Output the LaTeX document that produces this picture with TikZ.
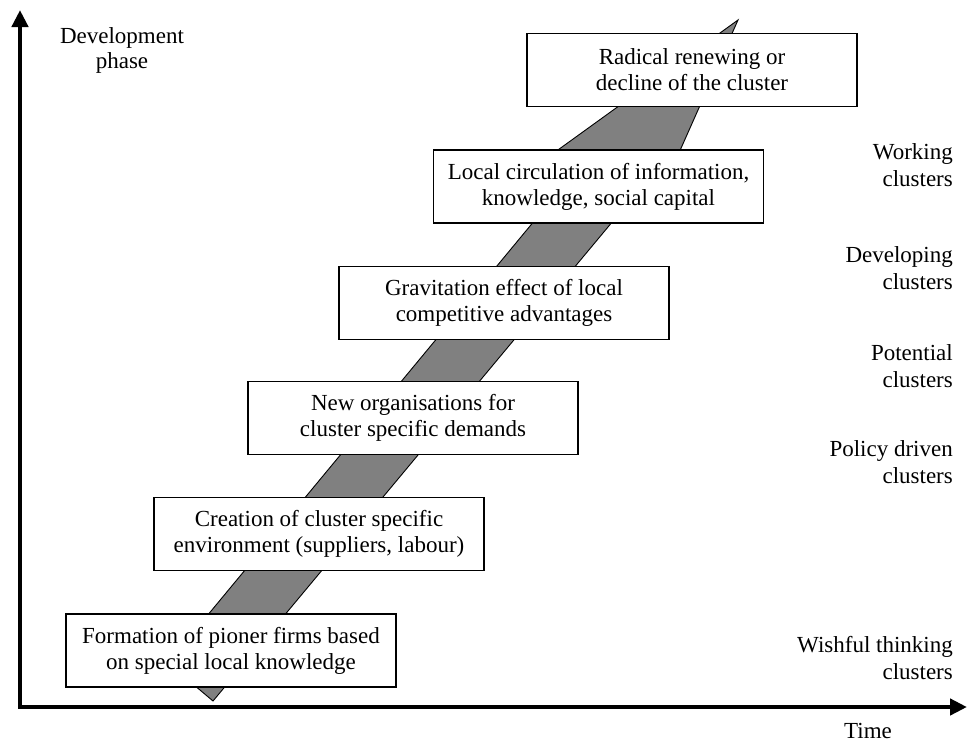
\documentclass[tikz,border=0pt]{standalone}
\usepackage{fontspec}
\setmainfont{Liberation Serif}
\usetikzlibrary{arrows.meta}
\definecolor{bandgray}{RGB}{128,128,128}
\begin{document}
\begin{tikzpicture}[x=1pt,y=-1pt,
  stagebox/.style={draw, fill=white, line width=1.5pt, minimum width=330pt, minimum height=73pt, align=center, inner sep=0pt, font=\fontsize{23}{26}\selectfont},
  lbl/.style={align=right, anchor=east, inner sep=0pt, font=\fontsize{23}{27}\selectfont},
  plainlbl/.style={align=center, inner sep=0pt, font=\fontsize{23}{25}\selectfont},
  axisline/.style={line width=4.5pt, line join=miter, {Triangle[length=17pt,width=16pt]}-{Triangle[length=17pt,width=16pt]}},
  band/.style={fill=bandgray, draw=black, line width=0.9pt, line join=miter}]
\useasboundingbox (0,0) rectangle (968,742);

% gray development arrow
\coordinate (tail) at (213,701);
\coordinate (r1) at (615.5,218);
\coordinate (r2) at (658,200);
\coordinate (tip) at (738,20);
\coordinate (l2) at (544,160);
\coordinate (l1) at (564,185);
\coordinate (bl) at (168,663);
\draw[band] (tail) -- (r1) -- (r2) -- (tip) -- (l2) -- (l1) -- (bl) -- cycle;

% stage boxes
\node[stagebox] (b1) at (231,650.5) {Formation of pioner firms based\\on special local knowledge};
\node[stagebox] (b2) at (319,534) {Creation of cluster specific\\environment (suppliers, labour)};
\node[stagebox] (b3) at (413,418) {New organisations for\\cluster specific demands};
\node[stagebox] (b4) at (504,303) {Gravitation effect of local\\competitive advantages};
\node[stagebox] (b5) at (598.5,186.5) {Local circulation of information,\\knowledge, social capital};
\node[stagebox] (b6) at (692,70) {Radical renewing or\\decline of the cluster};

% axes
\coordinate (ytip) at (20,10);
\coordinate (origin) at (20,707);
\coordinate (xtip) at (967,707);
\draw[axisline] (ytip) -- (origin) -- (xtip);

% axis labels
\node[plainlbl] (ylab) at (122,50) {Development\\phase};
\node[inner sep=0pt, anchor=base, font=\fontsize{23}{25}\selectfont] (xlab) at (868,738) {Time};

% cluster type labels
\node[lbl] (c5) at (953,165) {Working\\clusters};
\node[lbl] (c4) at (953,268) {Developing\\clusters};
\node[lbl] (c3) at (953,366) {Potential\\clusters};
\node[lbl] (c2) at (953,462) {Policy driven\\clusters};
\node[lbl] (c1) at (953,658) {Wishful thinking\\clusters};
\end{tikzpicture}
\end{document}
